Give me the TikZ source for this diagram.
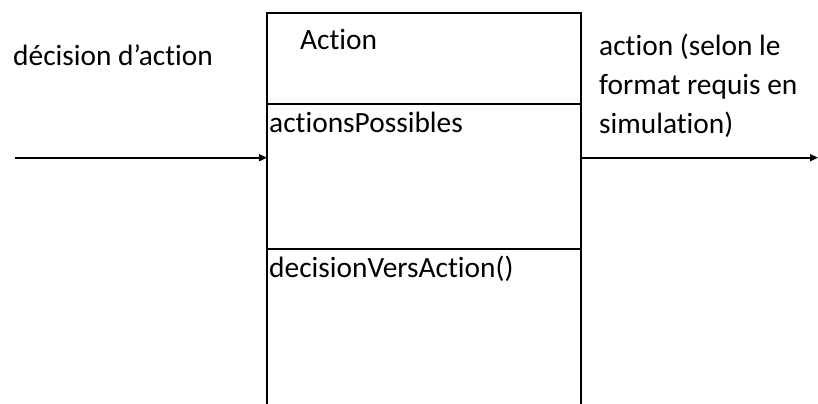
\documentclass[tikz,border=0pt]{standalone}
\usepackage{fontspec}
\setmainfont{Carlito}[Ligatures={NoCommon}]
\usetikzlibrary{arrows.meta}
\begin{document}
\begin{tikzpicture}[x=1bp,y=-1bp,
  txt/.style={inner sep=0pt,anchor=base west,font=\fontsize{29.5}{39}\selectfont},
  line/.style={line width=1.6bp,draw=black},
  flow/.style={line,-{Triangle[length=8bp,width=7bp]}}]
\useasboundingbox (0,0) rectangle (818,403);
% class box (open at the bottom, cut by the frame)
\draw[line] (267,420) -- (267,12.7) -- (581,12.7) -- (581,420);
\draw[line] (267,104) -- (581,104);
\draw[line] (267,249) -- (581,249);
\coordinate (boxL) at (267,157.7);
\coordinate (boxR) at (581,157.7);
\coordinate (inS) at (15,157.7);
\coordinate (outE) at (818,157.7);
\node[txt] (title) at (300,49) {Action};
\node[txt] (attr) at (269,132) {actionsPossibles};
\node[txt] (meth) at (269,277) {decisionVersAction()};
\node[txt] (inlbl) at (13,65) {décision d’action};
\node[txt] (out1) at (599,55) {action (selon le};
\node[txt] (out2) at (599,94.5) {format requis en};
\node[txt] (out3) at (599,133) {simulation)};
\draw[flow] (inS) -- (boxL);
\draw[flow] (boxR) -- (outE);
\end{tikzpicture}
\end{document}
